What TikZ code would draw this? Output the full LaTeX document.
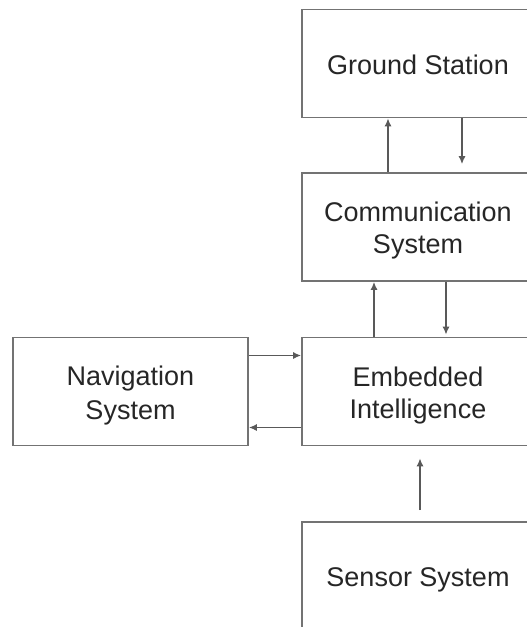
\documentclass[tikz,border=0pt]{standalone}
\usepackage{fontspec}
\setmainfont{Liberation Sans}
\usepackage{tikz}
\usetikzlibrary{arrows.meta}
\usetikzlibrary{positioning}

\newcommand{\bstrut}{\rule[-5pt]{0pt}{32pt}}

\begin{document}
\begin{tikzpicture}[x=1pt,y=-1pt,
      every node/.style={font=\fontsize{27}{32}\selectfont,text=black!85},
      block/.style={draw=black!55,line width=1.7pt,align=center,
                    minimum width=232pt,minimum height=108pt,inner sep=0pt},
      flow/.style={draw=black!65,line width=1.4pt,
                   -{Latex[length=8pt,width=7pt]}}]

      \clip (0,0) rectangle (527,627);
      \useasboundingbox (0,0) rectangle (527,627);

      \node[block] (gs) at (418,63.5) {\bstrut Ground Station};
      \node[block] (cs) at (418,227) {\bstrut Communication\\\bstrut System};
      \node[block] (ei) at (418,391.5) {\bstrut Embedded\\\bstrut Intelligence};
      \node[block,minimum width=235pt] (nav) at (130.5,391.5) {\bstrut Navigation\\\bstrut System};
      \node[block] (sen) at (418,576) {\bstrut Sensor System};

      % ground station <-> communication
      \draw[flow] ([xshift=-30pt]cs.north) -- ([xshift=-30pt]gs.south);
      \draw[flow,shorten >=8pt] ([xshift=44pt]gs.south) -- ([xshift=44pt]cs.north);
      % communication <-> embedded
      \draw[flow] ([xshift=-44pt]ei.north) -- ([xshift=-44pt]cs.south);
      \draw[flow,shorten >=2pt] ([xshift=28pt]cs.south) -- ([xshift=28pt]ei.north);
      % navigation <-> embedded
      \draw[flow] ([yshift=36pt]nav.east) -- ([yshift=36pt]ei.west);
      \draw[flow] ([yshift=-36pt]ei.west) -- ([yshift=-36pt]nav.east);
      % sensor -> embedded
      \draw[flow,shorten <=11pt,shorten >=12pt] ([xshift=2pt]sen.north) -- ([xshift=2pt]ei.south);
\end{tikzpicture}
\end{document}
